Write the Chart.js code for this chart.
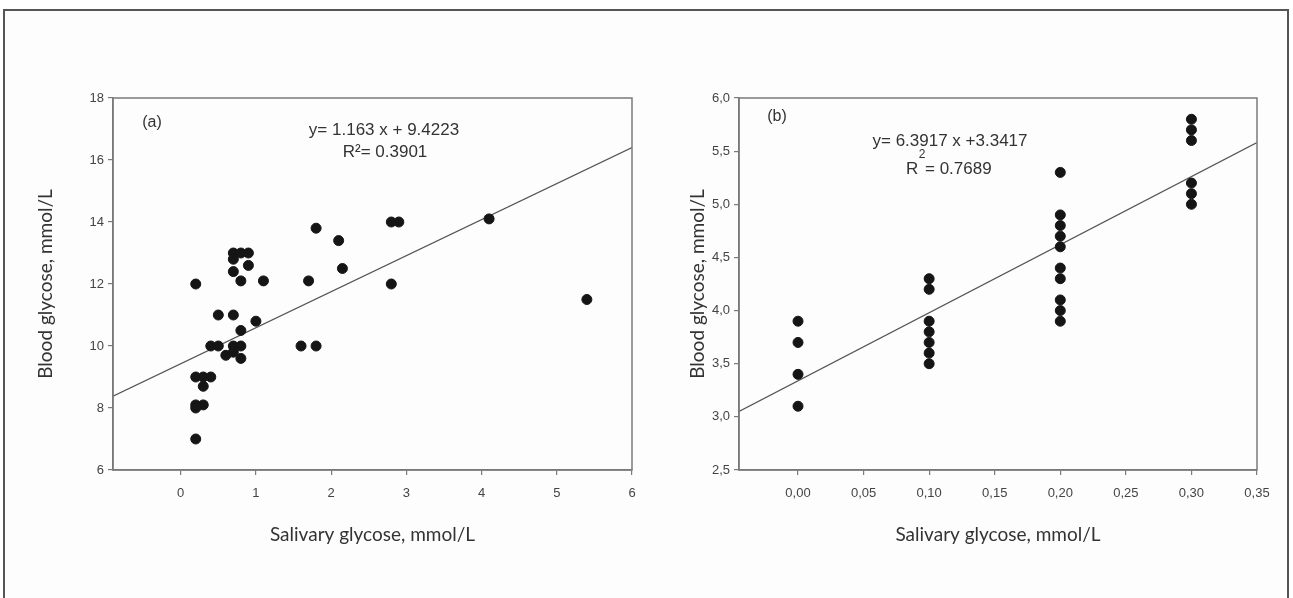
<!DOCTYPE html>
<html>
<head>
<meta charset="utf-8">
<script src="https://cdn.jsdelivr.net/npm/chart.js@4.4.0/dist/chart.umd.min.js"></script>
<style>
  html, body { margin: 0; padding: 0; background: #fff; }
  body { width: 1293px; height: 598px; position: relative; overflow: hidden; }
  #frame { position: absolute; left: 3px; top: 9px; width: 1282px; height: 600px;
           border: 2px solid #555; background: #fdfdfd; }
  .wrap { position: absolute; top: 0; }
  #wrapA { left: 0; }
  #wrapB { left: 660px; }
</style>
</head>
<body>
<div id="frame"></div>
<div class="wrap" id="wrapA"><canvas id="chartA" width="660" height="598"></canvas></div>
<div class="wrap" id="wrapB"><canvas id="chartB" width="633" height="598"></canvas></div>

<script>
/* ── DATOS ──────────────────────────────────── */

// (a) salival vs sangre, mmol/L
const SAL_A   = [0.2, 0.2, 0.3, 0.4, 0.3, 0.2, 0.3, 0.2, 0.2,
                 0.5, 0.7, 1.0, 0.8, 0.4, 0.5, 0.7, 0.8, 0.6, 0.7, 0.8,
                 0.7, 0.8, 0.9, 0.7, 0.9, 0.7, 0.8, 1.1, 1.7, 1.6,
                 1.8, 1.8, 2.1, 2.15, 2.8, 2.9, 2.8, 4.1, 5.4];
const BLOOD_A = [12, 9, 9, 9, 8.7, 8.1, 8.1, 8.0, 7.0,
                 11, 11, 10.8, 10.5, 10, 10, 10, 10, 9.7, 9.8, 9.6,
                 13, 13, 13, 12.8, 12.6, 12.4, 12.1, 12.1, 12.1, 10,
                 10, 13.8, 13.4, 12.5, 14, 14, 12, 14.1, 11.5];
// extremos de la recta
const FIT_A_X = [-0.9, 6];
const FIT_A_Y = [8.38, 16.4];
const XTICKS_A = [0, 1, 2, 3, 4, 5, 6];
const YTICKS_A = [6, 8, 10, 12, 14, 16, 18];

// (b)
const SAL_B   = [0, 0, 0, 0,
                 0.1, 0.1, 0.1, 0.1, 0.1, 0.1, 0.1,
                 0.2, 0.2, 0.2, 0.2, 0.2, 0.2, 0.2, 0.2, 0.2, 0.2,
                 0.3, 0.3, 0.3, 0.3, 0.3, 0.3];
const BLOOD_B = [3.9, 3.7, 3.4, 3.1,
                 4.3, 4.2, 3.9, 3.8, 3.7, 3.6, 3.5,
                 5.3, 4.9, 4.8, 4.7, 4.6, 4.4, 4.3, 4.1, 4.0, 3.9,
                 5.8, 5.7, 5.6, 5.2, 5.1, 5.0];
const FIT_B_X = [-0.045, 0.35];
const FIT_B_Y = [3.05, 5.58];
const XTICKS_B = [0, 0.05, 0.10, 0.15, 0.20, 0.25, 0.30, 0.35];
const YTICKS_B = [2.5, 3.0, 3.5, 4.0, 4.5, 5.0, 5.5, 6.0];

const X_TITLE = "Salivary glycose, mmol/L";
const Y_TITLE = "Blood glycose, mmol/L";

/* ── ESTILO ─────────────────────────────────── */

const AXIS_COLOR = "#7a7a7a";
const TEXT_COLOR = "#333";
const TICK_FONT  = { family: "'Liberation Sans', Arial, sans-serif", size: 13 };
const TITLE_FONT = { family: "Lato, 'Open Sans', sans-serif", size: 19 };

const toPts = (xs, ys) => xs.map((x, i) => ({ x, y: ys[i] }));
const comma = (v, d) => v.toFixed(d).replace(".", ",");

// caja alrededor del área + textos
const boxPlugin = {
  id: "boxAndNotes",
  afterDraw(chart, args, opts) {
    const { ctx, chartArea: a } = chart;
    ctx.save();
    ctx.strokeStyle = AXIS_COLOR;
    ctx.lineWidth = 1.5;
    ctx.strokeRect(a.left, a.top, a.right - a.left, a.bottom - a.top);
    ctx.fillStyle = TEXT_COLOR;
    ctx.textBaseline = "middle";
    (opts.notes || []).forEach(n => {
      ctx.font = `${n.size}px 'Liberation Sans', Arial, sans-serif`;
      ctx.textAlign = n.align || "center";
      ctx.fillText(n.text, a.left + n.dx, a.top + n.dy);
    });
    ctx.restore();
  }
};

function makeChart(id, cfg) {
  return new Chart(document.getElementById(id), {
    type: "scatter",
    data: {
      datasets: [
        {
          data: cfg.points,
          backgroundColor: "#151515",
          borderColor: "#151515",
          pointRadius: 5,
          pointHoverRadius: 5,
        },
        {
          type: "line",
          data: cfg.fit,
          borderColor: "#555",
          borderWidth: 1.3,
          pointRadius: 0,
          fill: false,
        }
      ]
    },
    options: {
      responsive: false,
      animation: false,
      layout: { padding: cfg.padding },
      plugins: {
        legend: { display: false },
        tooltip: { enabled: false },
        boxAndNotes: { notes: cfg.notes },
      },
      scales: {
        x: {
          type: "linear",
          min: cfg.xMin, max: cfg.xMax,
          afterBuildTicks: s => { s.ticks = cfg.xTicks.map(v => ({ value: v })); },
          afterFit: s => { s.height = cfg.xAxisH; },
          ticks: { font: TICK_FONT, color: "#444", padding: 11,
                   maxRotation: 0, autoSkip: false, callback: cfg.xFmt },
          grid: { drawOnChartArea: false, tickLength: 5, color: AXIS_COLOR, lineWidth: 1.2 },
          border: { color: AXIS_COLOR, width: 1.5 },
          title: { display: true, text: X_TITLE, font: TITLE_FONT, color: TEXT_COLOR,
                   padding: { top: 0, bottom: 12 } },
        },
        y: {
          min: cfg.yMin, max: cfg.yMax,
          afterBuildTicks: s => { s.ticks = cfg.yTicks.map(v => ({ value: v })); },
          afterFit: s => { s.width = cfg.yAxisW; },
          ticks: { font: TICK_FONT, color: "#444", padding: 4, autoSkip: false, callback: cfg.yFmt },
          grid: { drawOnChartArea: false, tickLength: 5, color: AXIS_COLOR, lineWidth: 1.2 },
          border: { color: AXIS_COLOR, width: 1.5 },
          title: { display: true, text: Y_TITLE, font: TITLE_FONT, color: TEXT_COLOR,
                   padding: { top: cfg.yTitlePad, bottom: 0 } },
        }
      }
    },
    plugins: [boxPlugin]
  });
}

/* ── ARRANQUE ───────────────────────────────── */

makeChart("chartA", {
  points: toPts(SAL_A, BLOOD_A),
  fit: toPts(FIT_A_X, FIT_A_Y),
  xMin: -0.9, xMax: 6, yMin: 6, yMax: 18,
  xTicks: XTICKS_A, yTicks: YTICKS_A,
  xFmt: v => String(v), yFmt: v => String(v),
  padding: { left: 20, right: 28, top: 98, bottom: 40 },
  yAxisW: 93, xAxisH: 88, yTitlePad: 14,
  notes: [
    { text: "(a)", size: 16, dx: 39, dy: 25 },
    { text: "y= 1.163 x + 9.4223", size: 17, dx: 271, dy: 32 },
    { text: "R²= 0.3901", size: 17, dx: 272, dy: 54 },
  ]
});

makeChart("chartB", {
  points: toPts(SAL_B, BLOOD_B),
  fit: toPts(FIT_B_X, FIT_B_Y),
  xMin: -0.045, xMax: 0.35, yMin: 2.5, yMax: 6.0,
  xTicks: XTICKS_B, yTicks: YTICKS_B,
  xFmt: v => comma(v, 2), yFmt: v => comma(v, 1),
  padding: { left: 20, right: 36, top: 98, bottom: 40 },
  yAxisW: 59, xAxisH: 88, yTitlePad: 6,
  notes: [
    { text: "(b)", size: 16, dx: 38, dy: 19 },
    { text: "y= 6.3917 x +3.3417", size: 17, dx: 211, dy: 43 },
    { text: "2", size: 12, dx: 183, dy: 57 },
    { text: "R", size: 17, dx: 167, dy: 71, align: "left" },
    { text: "= 0.7689", size: 17, dx: 186, dy: 71, align: "left" },
  ]
});
</script>
</body>
</html>
